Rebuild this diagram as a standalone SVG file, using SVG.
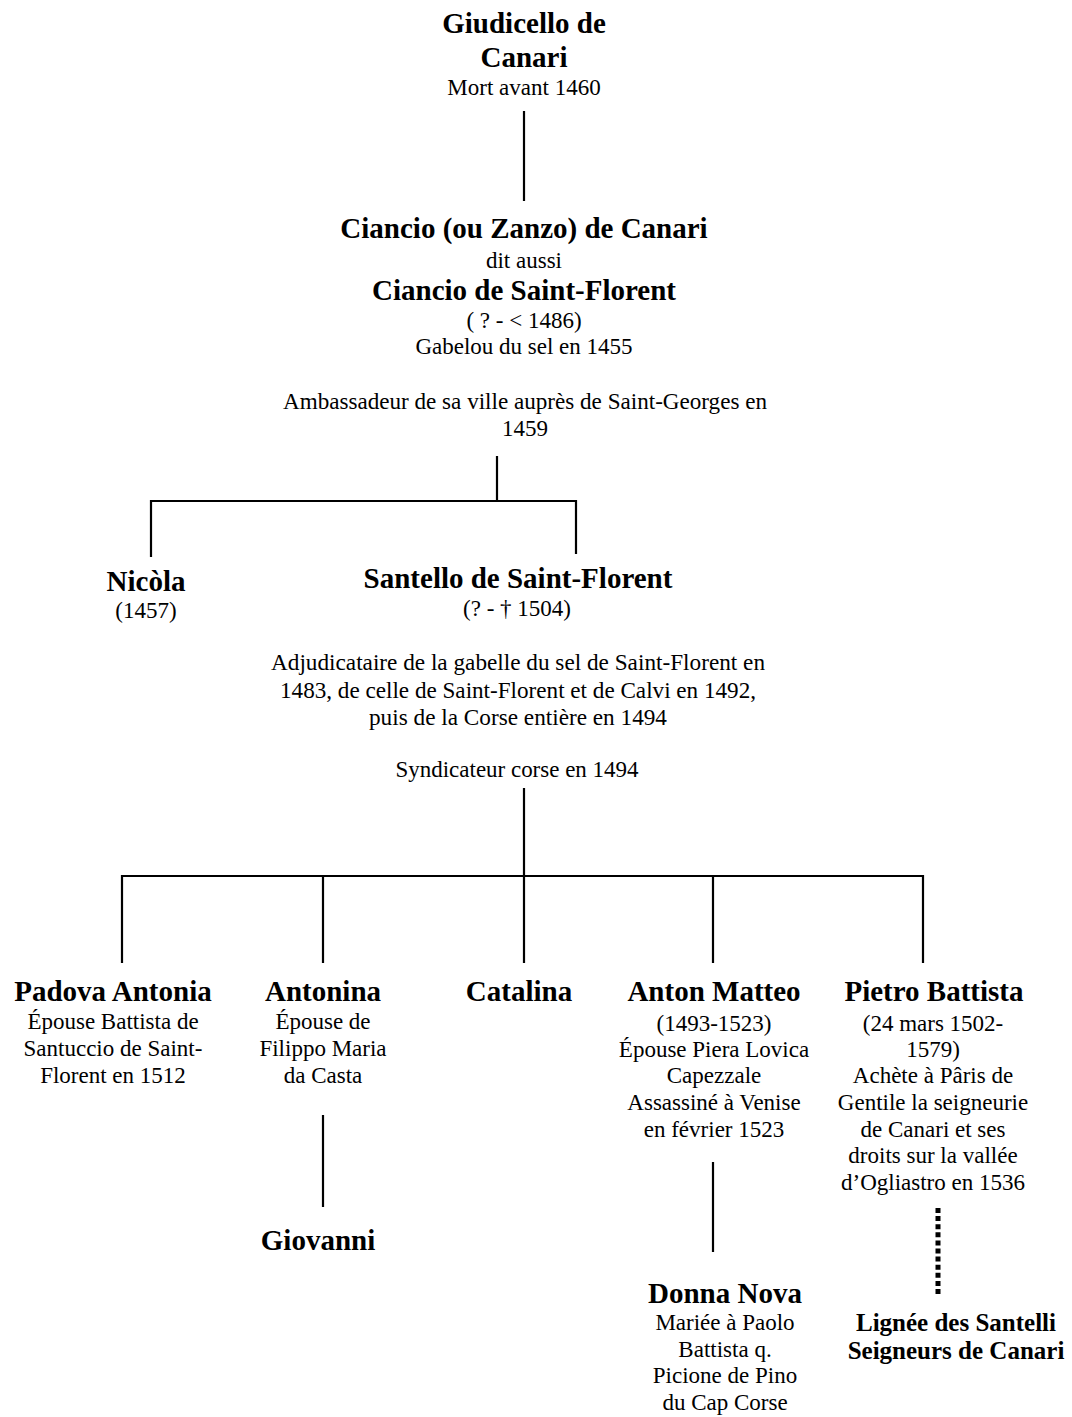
<svg xmlns="http://www.w3.org/2000/svg" width="1072" height="1417" viewBox="0 0 1072 1417">
<style>
text{font-family:"Liberation Serif","Times New Roman",serif;fill:#000;text-anchor:middle}
.b{font-weight:bold;font-size:29px}
.r{font-size:23px}
.ln{stroke:#000;stroke-width:2.2;fill:none}
.dot{stroke:#000;stroke-width:5;stroke-dasharray:5 3.1;fill:none}
</style>
<rect width="1072" height="1417" fill="#fff"/>
<g id="connectors">
<path class="ln" d="M524 111V201"/>
<path class="ln" d="M497 456V501M151 501H576M151 500V557M576 500V554"/>
<path class="ln" d="M524 788V876M122 876H923M122 875V963M323 875V963M524 875V963M713 875V963M923 875V963"/>
<path class="ln" d="M323 1115V1207"/>
<path class="ln" d="M713 1162V1252"/>
<path class="dot" d="M938 1208V1297"/>
</g>
<g id="giudicello">
<text class="b" x="524" y="33">Giudicello de</text>
<text class="b" x="524" y="67">Canari</text>
<text class="r" x="524" y="95">Mort avant 1460</text>
</g>
<g id="ciancio">
<text class="b" x="524" y="238">Ciancio (ou Zanzo) de Canari</text>
<text class="r" x="524" y="268">dit aussi</text>
<text class="b" x="524" y="300">Ciancio de Saint-Florent</text>
<text class="r" x="524" y="328">( ? - &lt; 1486)</text>
<text class="r" x="524" y="354">Gabelou du sel en 1455</text>
<text class="r" x="525" y="409" textLength="484" lengthAdjust="spacingAndGlyphs">Ambassadeur de sa ville auprès de Saint-Georges en</text>
<text class="r" x="525" y="436">1459</text>
</g>
<g id="nicola">
<text class="b" x="146" y="591">Nicòla</text>
<text class="r" x="146" y="618">(1457)</text>
</g>
<g id="santello">
<text class="b" x="518" y="588">Santello de Saint-Florent</text>
<text class="r" x="517" y="616">(? - † 1504)</text>
<text class="r" x="518" y="670" textLength="494" lengthAdjust="spacingAndGlyphs">Adjudicataire de la gabelle du sel de Saint-Florent en</text>
<text class="r" x="518" y="698" textLength="476" lengthAdjust="spacingAndGlyphs">1483, de celle de Saint-Florent et de Calvi en 1492,</text>
<text class="r" x="518" y="725" textLength="298" lengthAdjust="spacingAndGlyphs">puis de la Corse entière en 1494</text>
<text class="r" x="517" y="777" textLength="243" lengthAdjust="spacingAndGlyphs">Syndicateur corse en 1494</text>
</g>
<g id="padova">
<text class="b" x="113" y="1001">Padova Antonia</text>
<text class="r" x="113" y="1029">Épouse Battista de</text>
<text class="r" x="113" y="1056">Santuccio de Saint-</text>
<text class="r" x="113" y="1083">Florent en 1512</text>
</g>
<g id="antonina">
<text class="b" x="323" y="1001">Antonina</text>
<text class="r" x="323" y="1029">Épouse de</text>
<text class="r" x="323" y="1056">Filippo Maria</text>
<text class="r" x="323" y="1083">da Casta</text>
</g>
<g id="catalina">
<text class="b" x="519" y="1001">Catalina</text>
</g>
<g id="anton-matteo">
<text class="b" x="714" y="1001">Anton Matteo</text>
<text class="r" x="714" y="1031">(1493-1523)</text>
<text class="r" x="714" y="1057">Épouse Piera Lovica</text>
<text class="r" x="714" y="1083">Capezzale</text>
<text class="r" x="714" y="1110">Assassiné à Venise</text>
<text class="r" x="714" y="1137">en février 1523</text>
</g>
<g id="pietro-battista">
<text class="b" x="934" y="1001">Pietro Battista</text>
<text class="r" x="933" y="1031">(24 mars 1502-</text>
<text class="r" x="933" y="1057">1579)</text>
<text class="r" x="933" y="1083">Achète à Pâris de</text>
<text class="r" x="933" y="1110">Gentile la seigneurie</text>
<text class="r" x="933" y="1137">de Canari et ses</text>
<text class="r" x="933" y="1163">droits sur la vallée</text>
<text class="r" x="933" y="1190">d’Ogliastro en 1536</text>
</g>
<g id="giovanni">
<text class="b" x="318" y="1250">Giovanni</text>
</g>
<g id="donna-nova">
<text class="b" x="725" y="1303">Donna Nova</text>
<text class="r" x="725" y="1330">Mariée à Paolo</text>
<text class="r" x="725" y="1357">Battista q.</text>
<text class="r" x="725" y="1383">Picione de Pino</text>
<text class="r" x="725" y="1410">du Cap Corse</text>
</g>
<g id="santelli">
<text class="b" x="956" y="1331" style="font-size:25px">Lignée des Santelli</text>
<text class="b" x="956" y="1359" style="font-size:25px">Seigneurs de Canari</text>
</g>
</svg>
